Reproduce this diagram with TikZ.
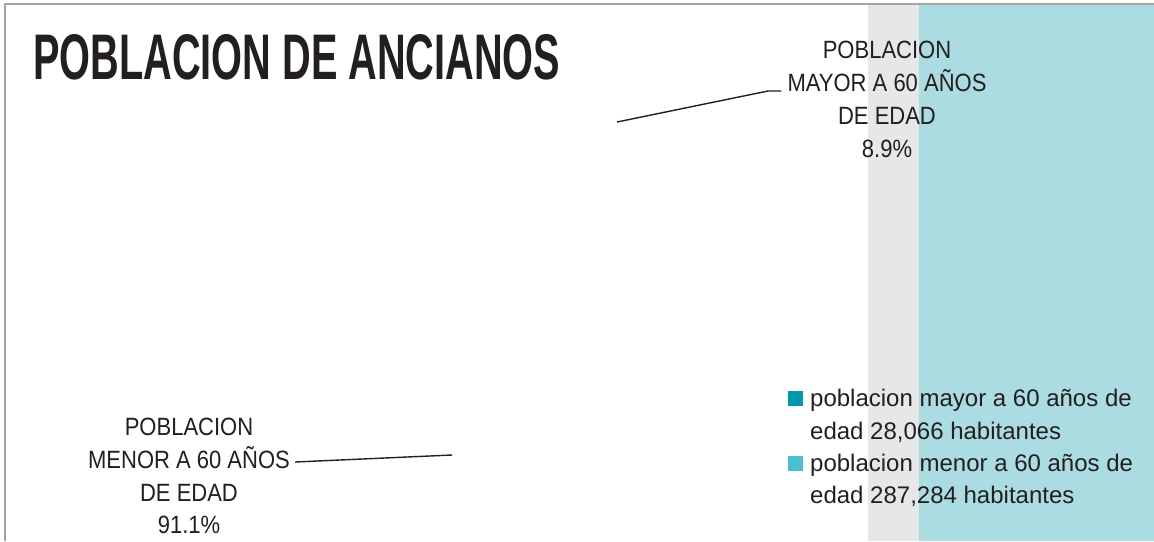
\documentclass[tikz,border=0pt]{standalone}
\usepackage{fontspec}
\setmainfont{Liberation Sans}
\newfontfamily\lblfont[FakeStretch=0.88]{Liberation Sans}
\usetikzlibrary{calc}
\definecolor{txt}{HTML}{231F20}
\definecolor{frame}{HTML}{A3A3A3}
\definecolor{bandgray}{HTML}{E6E7E8}
\definecolor{bandcyan}{HTML}{AADCE2}
\definecolor{sqdark}{HTML}{0098AC}
\definecolor{sqlight}{HTML}{4BBFCF}
\tikzset{
  lbl/.style={inner sep=0pt, anchor=base, text=txt, font=\lblfont\fontsize{25pt}{33pt}\selectfont},
  leg/.style={inner sep=0pt, anchor=base west, text=txt, font=\fontsize{24pt}{33pt}\selectfont},
  leader/.style={draw=txt, line width=1.4pt},
  legsq/.style={inner sep=0pt, minimum size=15pt, anchor=north west}
}
\begin{document}
\begin{tikzpicture}[x=1pt,y=-1pt]
\useasboundingbox (0,0) rectangle (1154,541);
\fill[white] (0,0) rectangle (1154,541);
% bands
\fill[bandgray] (868,4) rectangle (919,541);
\fill[bandcyan] (919,4) rectangle (1154,541);
% frame
\draw[frame, line width=2pt] (5,541) -- (5,4) -- (1154,4);
% title
\node[inner sep=0pt, anchor=south west, text=txt] (title) at (33,80)
  {\resizebox{527pt}{45pt}{\bfseries POBLACION DE ANCIANOS}};
% upper label
\node[lbl] (u1) at (887,58) {POBLACION};
\node[lbl] (u2) at (887,91) {MAYOR A 60 AÑOS};
\node[lbl] (u3) at (887,124) {DE EDAD};
\node[lbl] (u4) at (887,157) {8.9\%};
\coordinate (up) at (617,122);
\coordinate (uk) at (768,91);
\draw[leader] (up) -- (uk) -- ($(u2.base west)+(-6,0)$);
% lower label
\node[lbl] (l1) at (189,435) {POBLACION};
\node[lbl] (l2) at (189,468) {MENOR A 60 AÑOS};
\node[lbl] (l3) at (189,501) {DE EDAD};
\node[lbl] (l4) at (189,533) {91.1\%};
\coordinate (lp) at (452,455);
\draw[leader] ($(l2.base east)+(5,-6)$) -- (lp);
% legend
\node[legsq, fill=sqdark] (sq1) at (788,391) {};
\node[legsq, fill=sqlight] (sq2) at (788,456) {};
\node[leg] (g1) at (810,406) {poblacion mayor a 60 años de};
\node[leg] (g2) at (810,439) {edad 28,066 habitantes};
\node[leg] (g3) at (810,471) {poblacion menor a 60 años de};
\node[leg] (g4) at (810,503) {edad 287,284 habitantes};
\end{tikzpicture}
\end{document}
